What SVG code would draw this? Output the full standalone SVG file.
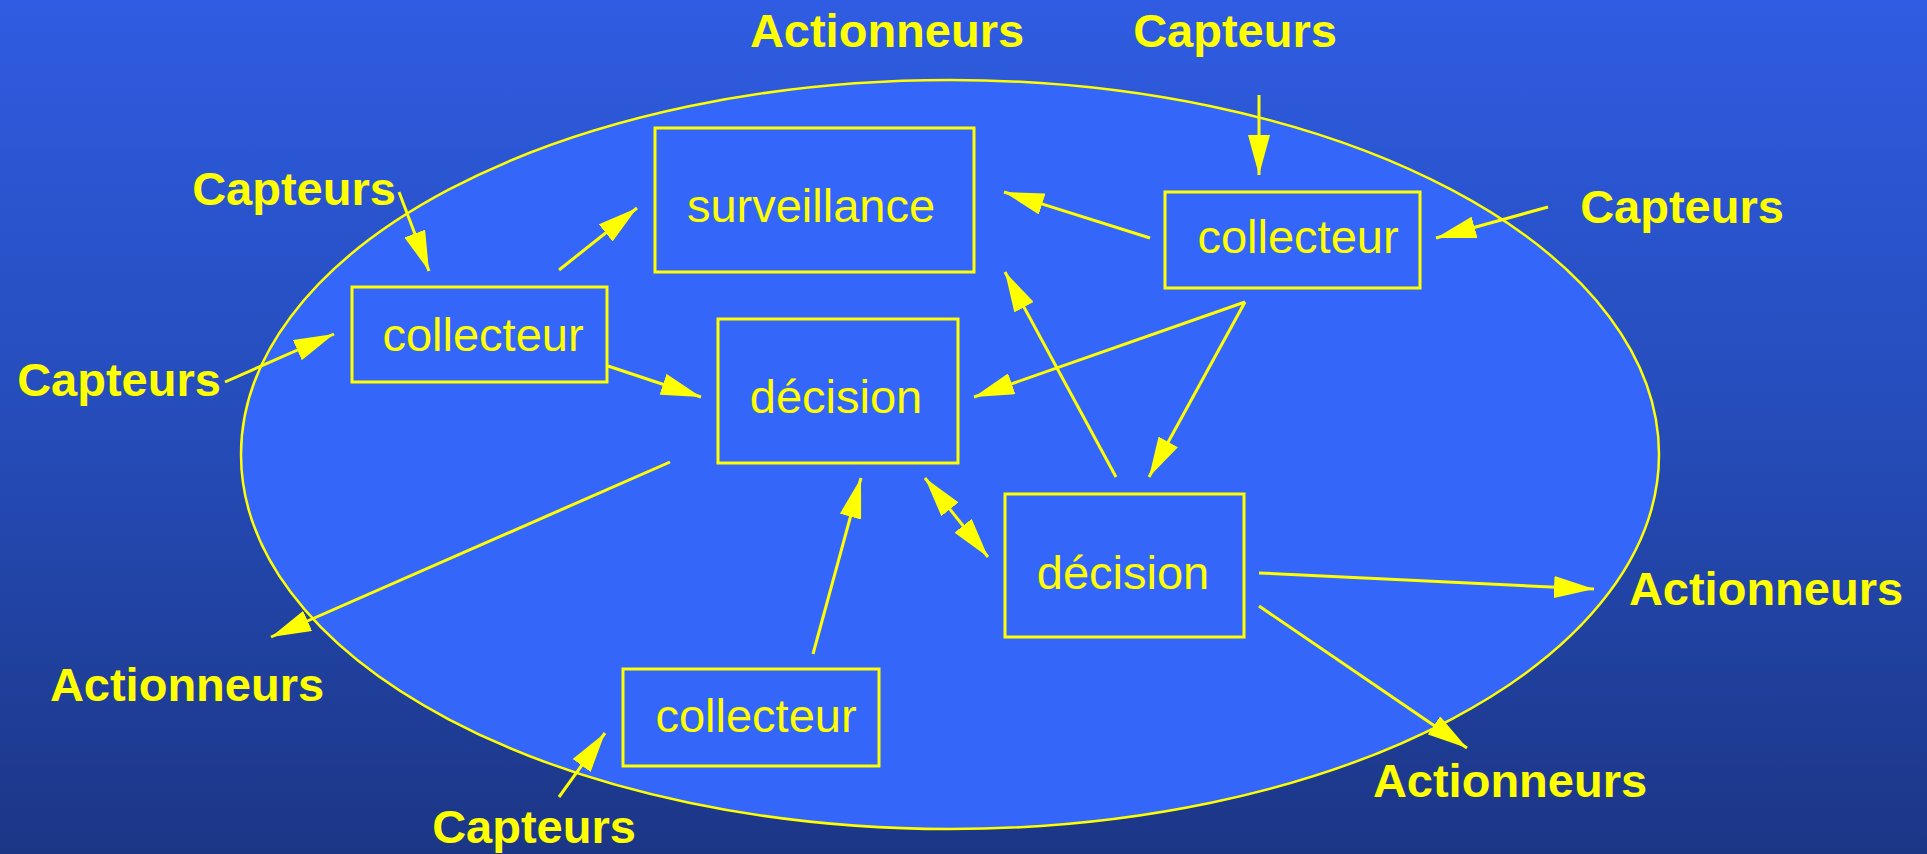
<svg xmlns="http://www.w3.org/2000/svg" width="1927" height="854" viewBox="0 0 1927 854">
  <defs>
    <linearGradient id="bg" x1="0" y1="0" x2="0" y2="1">
      <stop offset="0" stop-color="#2F5CE2"/>
      <stop offset="0.5" stop-color="#254CB9"/>
      <stop offset="1" stop-color="#1C3686"/>
    </linearGradient>
    <marker id="head" viewBox="0 0 40 22" refX="40" refY="11" markerWidth="40" markerHeight="22" markerUnits="userSpaceOnUse" orient="auto-start-reverse">
      <path d="M0,0 L40,11 L0,22 Z" fill="#FFFF00"/>
    </marker>
  </defs>
  <style>
    .box { fill: none; stroke: #FFFF00; stroke-width: 3; }
    .name { font-family: "Liberation Sans", Arial, sans-serif; font-size: 47px; fill: #FFFF00; text-anchor: middle; }
    .ext { font-family: "Liberation Sans", Arial, sans-serif; font-size: 47px; font-weight: bold; fill: #FFFF00; text-anchor: middle; }
    .link { stroke: #FFFF00; stroke-width: 3; fill: none; marker-end: url(#head); }
  </style>

  <rect x="0" y="0" width="1927" height="854" fill="url(#bg)"/>

  <!-- system boundary -->
  <ellipse id="system" cx="950" cy="454.5" rx="709" ry="374.5" fill="#3366F9" stroke="#FFFF00" stroke-width="2.5"/>

  <!-- processing blocks -->
  <g id="surveillance">
    <rect class="box" x="655" y="128" width="319" height="144"/>
    <text class="name" x="811" y="222">surveillance</text>
  </g>
  <g id="collecteur-gauche">
    <rect class="box" x="352" y="287" width="255" height="95"/>
    <text class="name" x="483" y="351">collecteur</text>
  </g>
  <g id="collecteur-haut">
    <rect class="box" x="1165" y="192" width="255" height="96"/>
    <text class="name" x="1298" y="253">collecteur</text>
  </g>
  <g id="decision-centre">
    <rect class="box" x="718" y="319" width="240" height="144"/>
    <text class="name" x="836" y="413">décision</text>
  </g>
  <g id="decision-droite">
    <rect class="box" x="1005" y="494" width="239" height="143"/>
    <text class="name" x="1123" y="589">décision</text>
  </g>
  <g id="collecteur-bas">
    <rect class="box" x="623" y="669" width="256" height="97"/>
    <text class="name" x="756" y="732">collecteur</text>
  </g>

  <!-- sensors and actuators outside the system -->
  <g id="actionneurs-haut"><text class="ext" x="887" y="47">Actionneurs</text></g>
  <g id="capteurs-haut"><text class="ext" x="1235" y="47">Capteurs</text></g>
  <g id="capteurs-haut-gauche"><text class="ext" x="294" y="205">Capteurs</text></g>
  <g id="capteurs-gauche"><text class="ext" x="119" y="396">Capteurs</text></g>
  <g id="capteurs-droite"><text class="ext" x="1682" y="223">Capteurs</text></g>
  <g id="actionneurs-droite"><text class="ext" x="1766" y="605">Actionneurs</text></g>
  <g id="actionneurs-bas-droite"><text class="ext" x="1510" y="797">Actionneurs</text></g>
  <g id="actionneurs-gauche"><text class="ext" x="187" y="701">Actionneurs</text></g>
  <g id="capteurs-bas"><text class="ext" x="534" y="843">Capteurs</text></g>

  <!-- data flows -->
  <g id="connectors">
    <line class="link" x1="399" y1="192" x2="429" y2="271"/>
    <line class="link" x1="559" y1="270" x2="637" y2="208"/>
    <line class="link" x1="225" y1="382" x2="334" y2="334"/>
    <line class="link" x1="608" y1="366" x2="701" y2="397"/>
    <line class="link" x1="1150" y1="238" x2="1004" y2="192"/>
    <line class="link" x1="1259" y1="95" x2="1259" y2="175"/>
    <line class="link" x1="1548" y1="207" x2="1436" y2="238"/>
    <line class="link" x1="1245" y1="302" x2="974" y2="397"/>
    <line class="link" x1="1245" y1="302" x2="1149" y2="477"/>
    <line class="link" x1="1116" y1="477" x2="1005" y2="272"/>
    <line class="link" x1="670" y1="462" x2="271" y2="637"/>
    <line class="link" x1="813" y1="654" x2="861" y2="478"/>
    <line class="link" x1="925" y1="478" x2="988" y2="557" marker-start="url(#head)"/>
    <line class="link" x1="1259" y1="573" x2="1594" y2="589"/>
    <line class="link" x1="1259" y1="606" x2="1467" y2="748"/>
    <line class="link" x1="559" y1="797" x2="605" y2="733"/>
  </g>
</svg>
